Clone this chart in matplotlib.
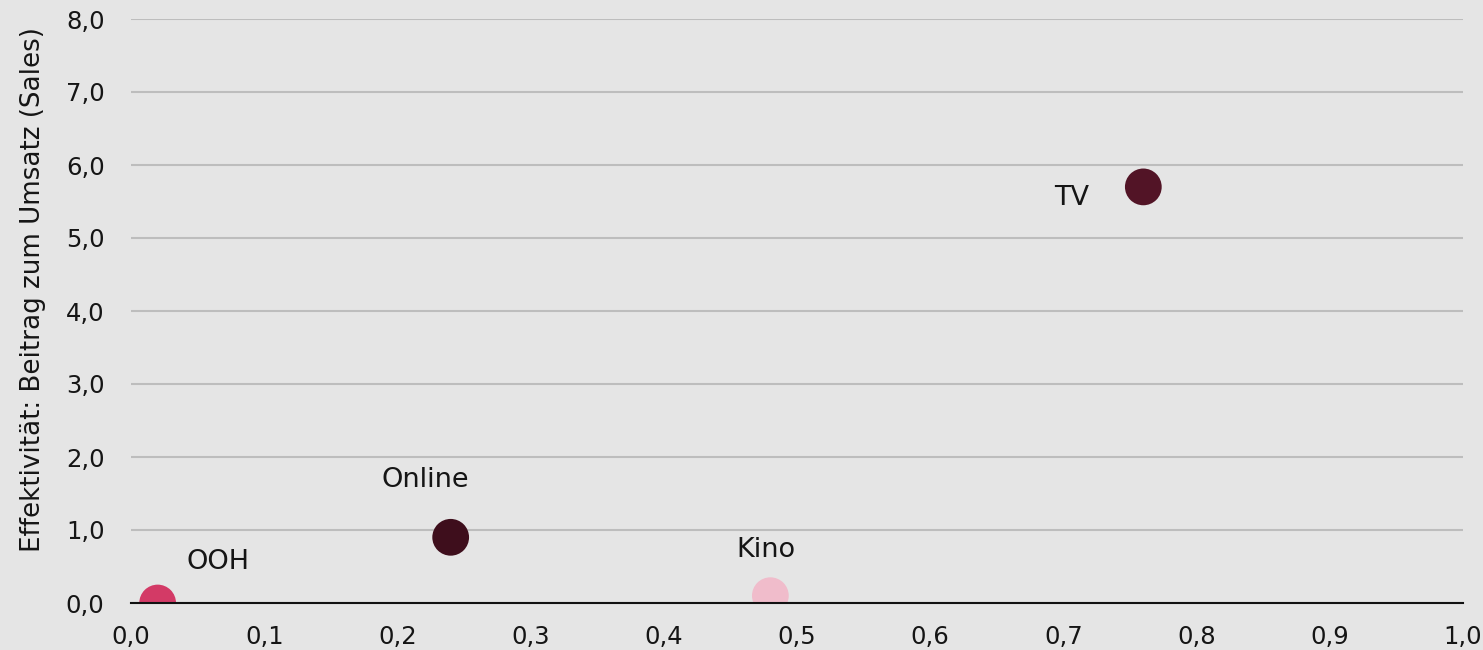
import numpy as np
import matplotlib.pyplot as plt

channels = ["OOH", "Online", "Kino", "TV"]
effizienz = [0.02, 0.24, 0.48, 0.76]
effektivitaet = [0.0, 0.9, 0.1, 5.7]
farben = ["#d33a66", "#3e0e1c", "#f0bccb", "#521426"]
label_offsets = [(60, 41), (-25, 57), (-4, 46), (-72, -11)]

plt.rcParams['font.family'] = ['DejaVu Sans']

bg = "#e5e5e5"
fig = plt.figure(figsize=(14.83, 6.5), dpi=100, facecolor=bg)
ax = fig.add_axes([131 / 1483, 47 / 650, 1332 / 1483, 584 / 650], facecolor=bg)

# points at y=0 are cut by the axis, like in the original
sc = ax.scatter(effizienz, effektivitaet, s=700, c=farben, zorder=3, linewidths=0)
sc.set_clip_path(ax.patch)

for name, x, y, off in zip(channels, effizienz, effektivitaet, label_offsets):
    ax.annotate(name, (x, y), xytext=off, textcoords="offset pixels",
                ha="center", va="center", fontsize=19.5, color="#151515",
                annotation_clip=False)

ax.set_xlim(0, 1.0)
ax.set_ylim(0, 8.0)
xt = np.arange(0, 1.01, 0.1)
yt = np.arange(0, 8.01, 1.0)
ax.set_xticks(xt)
ax.set_yticks(yt)
ax.set_xticklabels([f"{v:.1f}".replace(".", ",") for v in xt])
ax.set_yticklabels([f"{v:.1f}".replace(".", ",") for v in yt])
ax.tick_params(length=0, labelsize=17.5, colors="#151515")
ax.tick_params(axis="x", pad=16)
ax.tick_params(axis="y", pad=19)

ax.grid(axis="y", color="#bdbdbd", linewidth=1.5, zorder=1)
ax.set_axisbelow(True)
for side in ["top", "right", "left"]:
    ax.spines[side].set_visible(False)
ax.spines["bottom"].set_color("#111111")
ax.spines["bottom"].set_linewidth(1.5)
ax.spines["bottom"].set_zorder(4)

ax.set_ylabel("Effektivität: Beitrag zum Umsatz (Sales)", fontsize=18.8,
              color="#151515")
ax.yaxis.set_label_coords(-0.064, 0.536)

fig.savefig("out.png", dpi=100, facecolor=bg)
